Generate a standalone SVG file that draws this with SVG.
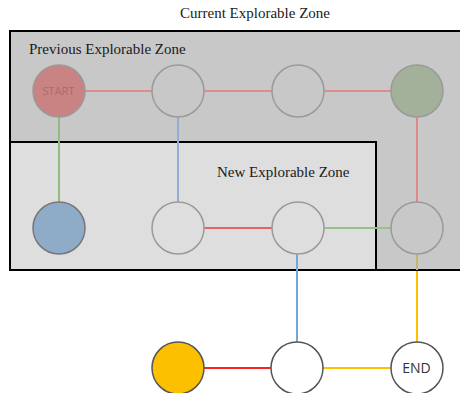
<svg xmlns="http://www.w3.org/2000/svg" width="460" height="393" viewBox="0 0 460 393">
  <style>
    .zone-title { font-family: "Liberation Serif", "Times New Roman", serif; font-size: 15px; fill: #1a1a1a; }
    .node { stroke-width: 1.5; }
    .faint { fill: none; stroke: #9a9a9a; }
    .plain { fill: #ffffff; stroke: #555555; }
    .edge { fill: none; stroke-width: 2; }
    .label { font-family: "Open Sans", "DejaVu Sans", sans-serif; text-anchor: middle; }
  </style>

  <!-- zone frames -->
  <g id="zones">
    <rect x="10" y="31" width="455" height="239" fill="#c8c8c8" stroke="#000" stroke-width="2"/>
    <rect x="10" y="142" width="366" height="128" fill="#dedede" stroke="#000" stroke-width="2"/>
  </g>

  <!-- connectors -->
  <g id="connectors">
    <line class="edge" x1="85" y1="91" x2="152" y2="91" stroke="#e08c8c"/>
    <line class="edge" x1="204" y1="91" x2="272" y2="91" stroke="#e08c8c"/>
    <line class="edge" x1="324" y1="91" x2="391" y2="91" stroke="#e08c8c"/>
    <line class="edge" x1="59" y1="117" x2="59" y2="202" stroke="#93bb80"/>
    <line class="edge" x1="178" y1="117" x2="178" y2="202" stroke="#8fb0d0"/>
    <line class="edge" x1="417" y1="117" x2="417" y2="202" stroke="#e08888"/>
    <line class="edge" x1="204" y1="228" x2="272" y2="228" stroke="#e86262"/>
    <line class="edge" x1="324" y1="228" x2="391" y2="228" stroke="#98c088"/>
    <line class="edge" x1="297" y1="254" x2="297" y2="342" stroke="#70a8dc"/>
    <line class="edge" x1="417" y1="254" x2="417" y2="270" stroke="#c8b46e"/>
    <line class="edge" x1="417" y1="271" x2="417" y2="342" stroke="#ffc000"/>
    <line class="edge" x1="204" y1="368" x2="271" y2="368" stroke="#ff2020"/>
    <line class="edge" x1="323" y1="368" x2="391" y2="368" stroke="#ffc000"/>
  </g>

  <!-- zone labels -->
  <text class="zone-title" x="255" y="18" text-anchor="middle">Current Explorable Zone</text>
  <text class="zone-title" x="29" y="54">Previous Explorable Zone</text>
  <text class="zone-title" x="217" y="177">New Explorable Zone</text>

  <!-- nodes: top row -->
  <g id="start">
    <circle class="node" cx="59" cy="91" r="26" fill="#c98383" stroke="#9a9a9a"/>
    <text class="label" x="58.5" y="95" font-size="11" fill="#b06a6a">START</text>
  </g>
  <g id="n12"><circle class="node faint" cx="178" cy="91" r="26"/></g>
  <g id="n13"><circle class="node faint" cx="298" cy="91" r="26"/></g>
  <g id="n14"><circle class="node" cx="417" cy="91" r="26" fill="#a3b09a" stroke="#9a9a9a"/></g>

  <!-- nodes: middle row -->
  <g id="n21"><circle class="node" cx="59" cy="228" r="26" fill="#8eabc8" stroke="#777"/></g>
  <g id="n22"><circle class="node faint" cx="178" cy="228" r="26"/></g>
  <g id="n23"><circle class="node faint" cx="298" cy="228" r="26"/></g>
  <g id="n24"><circle class="node faint" cx="417" cy="228" r="26"/></g>

  <!-- nodes: bottom row -->
  <g id="n31"><circle class="node" cx="178" cy="368" r="26" fill="#fdc000" stroke="#555"/></g>
  <g id="n32"><circle class="node plain" cx="297" cy="368" r="26"/></g>
  <g id="end">
    <circle class="node plain" cx="417" cy="368" r="26"/>
    <text class="label" x="416.5" y="373" font-size="14" fill="#333">END</text>
  </g>
</svg>
